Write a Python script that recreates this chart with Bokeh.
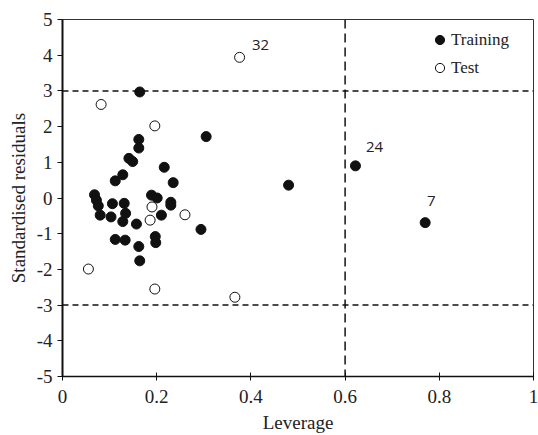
from bokeh.plotting import figure
from bokeh.models import FixedTicker, Span
from bokeh.core.properties import value
from bokeh.embed import file_html
from bokeh.resources import INLINE

# ---- data ----
train_lev = [0.164, 0.162, 0.162, 0.141, 0.149, 0.216, 0.128, 0.112, 0.235,
             0.068, 0.072, 0.076, 0.080, 0.106, 0.131, 0.134, 0.103, 0.128,
             0.157, 0.189, 0.201, 0.230, 0.230, 0.210, 0.294, 0.112, 0.133,
             0.162, 0.164, 0.197, 0.198, 0.305, 0.480, 0.622, 0.770]
train_res = [2.97, 1.64, 1.40, 1.11, 1.02, 0.86, 0.65, 0.48, 0.43,
             0.09, -0.06, -0.22, -0.48, -0.16, -0.15, -0.43, -0.53, -0.66,
             -0.73, 0.08, 0.00, -0.12, -0.20, -0.48, -0.88, -1.16, -1.18,
             -1.36, -1.76, -1.08, -1.25, 1.72, 0.36, 0.90, -0.69]
test_lev = [0.082, 0.196, 0.190, 0.186, 0.260, 0.055, 0.196, 0.366, 0.376]
test_res = [2.62, 2.02, -0.25, -0.62, -0.47, -1.99, -2.55, -2.78, 3.94]

x_ticks = [0, 0.2, 0.4, 0.6, 0.8, 1]
x_tick_labels = ["0", "0.2", "0.4", "0.6", "0.8", "1"]
y_ticks = [-5, -4, -3, -2, -1, 0, 1, 2, 3, 4, 5]
y_tick_labels = ["-5", "-4", "-3", "-2", "-1", "0", "1", "2", "3", "4", "5"]

res_limits = [3, -3]
lev_limit = 0.6

annot_text = ["32", "24", "7"]
annot_lev = [test_lev[8], train_lev[33], train_lev[34]]
annot_res = [test_res[8], train_res[33], train_res[34]]
annot_offsets = [(21, -12), (19, -19), (6, -22)]

SERIF = "Liberation Serif"

p = figure(width=538, height=435, x_range=(0, 1), y_range=(-5, 5),
           output_backend="svg", toolbar_location=None,
           min_border_left=62, min_border_right=5,
           min_border_top=19, min_border_bottom=58)
p.background_fill_color = "white"
p.border_fill_color = "white"
p.xgrid.visible = False
p.ygrid.visible = False
p.outline_line_color = "#333333"
p.outline_line_width = 1

# axes
p.xaxis.ticker = FixedTicker(ticks=x_ticks)
p.xaxis.major_label_overrides = {t: l for t, l in zip(x_ticks, x_tick_labels)}
p.yaxis.ticker = FixedTicker(ticks=y_ticks)
p.yaxis.major_label_overrides = {t: l for t, l in zip(y_ticks, y_tick_labels)}
p.xaxis.minor_tick_line_color = None
p.yaxis.minor_tick_line_color = None
p.xaxis.axis_label = "Leverage"
p.yaxis.axis_label = "Standardised residuals"
for ax in (p.xaxis, p.yaxis):
    ax.axis_label_text_font = SERIF
    ax.axis_label_text_font_style = "normal"
    ax.axis_label_text_font_size = "19px"
    ax.axis_label_text_color = "#222222"
    ax.major_label_text_font = SERIF
    ax.major_label_text_font_size = "19px"
    ax.major_label_text_color = "#222222"
    ax.axis_line_color = "#111111"
    ax.major_tick_line_color = "#111111"
p.xaxis.axis_line_width = 1.5
p.xaxis.major_tick_out = 4
p.xaxis.major_tick_in = 4
p.xaxis.major_label_standoff = 9
p.xaxis.axis_label_standoff = 6
p.yaxis.axis_line_width = 2
p.yaxis.major_tick_out = 5
p.yaxis.major_tick_in = 0
p.yaxis.major_label_standoff = 5
p.yaxis.axis_label_standoff = 5

# threshold lines
for r in res_limits:
    p.add_layout(Span(location=r, dimension="width", line_color="#111111",
                      line_width=1.5, line_dash="6 4"))
p.add_layout(Span(location=lev_limit, dimension="height", line_color="#111111",
                  line_width=1.5, line_dash="9 5"))

# points
p.scatter(train_lev, train_res, marker="circle", size=10,
          fill_color="#111111", line_color="#111111",
          legend_label="Training")
p.scatter(test_lev, test_res, marker="circle", size=10,
          fill_color="white", line_color="#111111", line_width=1,
          legend_label="Test")

# annotations
for t, xv, yv, (dx, dy) in zip(annot_text, annot_lev, annot_res, annot_offsets):
    p.text(x=[xv], y=[yv], text=[t], x_offset=dx, y_offset=dy,
           text_align="center", text_baseline="middle",
           text_font=value("Open Sans"), text_font_size="15px",
           text_color="#222222")

lg = p.legend[0]
lg.location = (366, 297)
lg.background_fill_alpha = 0
lg.border_line_alpha = 0
lg.padding = 0
lg.margin = 0
lg.spacing = 5
lg.glyph_width = 23
lg.glyph_height = 23
lg.label_height = 23
lg.label_standoff = 0
lg.label_text_font = SERIF
lg.label_text_font_size = "17px"
lg.label_text_color = "#222222"

open("out.html", "w").write(file_html(p, INLINE))
